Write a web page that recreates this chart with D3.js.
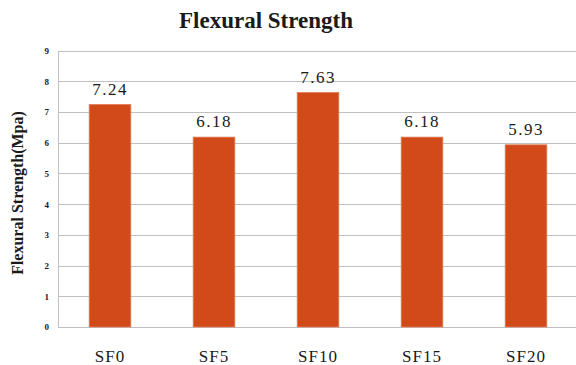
<!DOCTYPE html>
<html>
<head>
<meta charset="utf-8">
<script src="https://cdn.jsdelivr.net/npm/d3@7"></script>
<style>
  html, body { margin: 0; padding: 0; background: #fff; }
  svg { display: block; }
  text { font-family: "Liberation Serif", "DejaVu Serif", serif; }
</style>
</head>
<body>
<svg id="chart" width="576" height="365"></svg>
<script>
// Flexural strength per silica-fume mix
const categories = ["SF0", "SF5", "SF10", "SF15", "SF20"];
const strengths = [7.24, 6.18, 7.63, 6.18, 5.93];
const yTicks = [0, 1, 2, 3, 4, 5, 6, 7, 8, 9];

const W = 576, H = 365;
const margin = { top: 50.5, right: -2, bottom: 38, left: 58 };
const svg = d3.select("#chart");

const x = d3.scaleBand()
  .domain(categories)
  .range([margin.left, W - margin.right])
  .paddingInner(0.6)
  .paddingOuter(0.3);

const y = d3.scaleLinear()
  .domain([0, 9])
  .range([H - margin.bottom, margin.top]);

// gridlines
svg.append("g")
  .selectAll("line")
  .data(yTicks)
  .join("line")
  .attr("x1", margin.left)
  .attr("x2", W)
  .attr("y1", d => Math.round(y(d)) + 0.5)
  .attr("y2", d => Math.round(y(d)) + 0.5)
  .attr("stroke", "#c0c0c0")
  .attr("stroke-width", 1);

// y axis line
svg.append("line")
  .attr("x1", margin.left + 0.5).attr("x2", margin.left + 0.5)
  .attr("y1", Math.round(y(9)) + 0.5).attr("y2", Math.round(y(0)) + 0.5)
  .attr("stroke", "#c0c0c0");

// y tick labels
const yAxis = d3.axisLeft(y).tickValues(yTicks).tickSize(0).tickPadding(9);
const gy = svg.append("g")
  .attr("transform", `translate(${margin.left},0)`)
  .call(yAxis);
gy.select(".domain").remove();
gy.selectAll("text")
  .attr("font-family", "'Liberation Serif', serif")
  .attr("font-weight", "bold")
  .attr("font-size", 9)
  .attr("fill", "#1a1a1a");

// bars
svg.append("g")
  .selectAll("rect")
  .data(categories.map((c, i) => ({ c, v: strengths[i] })))
  .join("rect")
  .attr("x", d => x(d.c))
  .attr("width", x.bandwidth())
  .attr("y", d => y(d.v))
  .attr("height", d => y(0) - y(d.v))
  .attr("fill", "#d24a19")
  .attr("stroke", "#e07a55")
  .attr("stroke-width", 0.8);

// value labels
svg.append("g")
  .selectAll("text")
  .data(categories.map((c, i) => ({ c, v: strengths[i] })))
  .join("text")
  .attr("x", d => x(d.c) + x.bandwidth() / 2)
  .attr("y", d => y(d.v) - 10)
  .attr("text-anchor", "middle")
  .attr("font-family", "'Liberation Serif', serif")
  .attr("font-size", 17)
  .attr("letter-spacing", 1.5)
  .attr("fill", "#1a1a1a")
  .text(d => d.v.toFixed(2));

// x category labels
const xAxis = d3.axisBottom(x).tickSize(0).tickPadding(0);
const gx = svg.append("g")
  .attr("transform", `translate(0,${y(0)})`)
  .call(xAxis);
gx.select(".domain").remove();
gx.selectAll("text")
  .attr("dy", null)
  .attr("y", 35)
  .attr("font-family", "'Liberation Serif', serif")
  .attr("font-size", 17)
  .attr("letter-spacing", 1)
  .attr("fill", "#1a1a1a");

// title
svg.append("text")
  .attr("x", 266)
  .attr("y", 28)
  .attr("text-anchor", "middle")
  .attr("font-weight", "bold")
  .attr("font-size", 23)
  .attr("fill", "#1a1a1a")
  .text("Flexural Strength");

// y axis title
svg.append("text")
  .attr("transform", "translate(23,193) rotate(-90)")
  .attr("text-anchor", "middle")
  .attr("font-weight", "bold")
  .attr("font-size", 16)
  .attr("fill", "#1a1a1a")
  .text("Flexural Strength(Mpa)");
</script>
</body>
</html>
